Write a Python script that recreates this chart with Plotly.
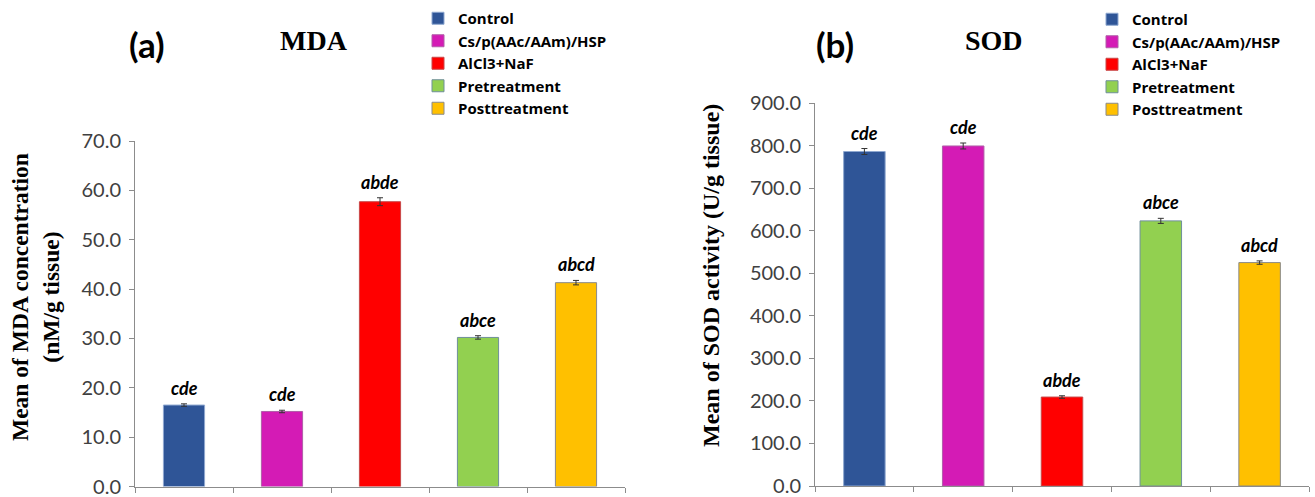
import plotly.graph_objects as go

# Treatment groups and their bar colours
groups = ["Control", "Cs/p(AAc/AAm)/HSP", "AlCl3+NaF", "Pretreatment", "Posttreatment"]
colors = ["#2F5597", "#D41BB5", "#FF0000", "#92D050", "#FFC000"]
edge_colors = ["#8FA8D0", "#B05FA8", "#C84848", "#6F8F9A", "#8A8A8A"]

# (a) MDA concentration (nM/g tissue)
mda_mean = [16.5, 15.2, 57.7, 30.2, 41.3]
mda_err = [0.25, 0.25, 0.8, 0.35, 0.45]
mda_letters = ["cde", "cde", "abde", "abce", "abcd"]

# (b) SOD activity (U/g tissue)
sod_mean = [786, 799, 209, 623, 525]
sod_err = [7, 7, 3, 6, 4]
sod_letters = ["cde", "cde", "abde", "abce", "abcd"]

mda_ticks = [0, 10, 20, 30, 40, 50, 60, 70]
sod_ticks = [0, 100, 200, 300, 400, 500, 600, 700, 800, 900]

W, H = 1315, 497
SANS = "Lato, 'Open Sans', sans-serif"
LEGEND_SANS = "'Open Sans', Lato, sans-serif"
SERIF = "'Liberation Serif', 'DejaVu Serif', serif"


def px_x(p):
    return p / W


def px_y(p):
    return 1 - p / H


fig = go.Figure()

panels = [
    ("x", "y", "legend", mda_mean, mda_err, mda_letters),
    ("x2", "y2", "legend2", sod_mean, sod_err, sod_letters),
]
for xa, ya, lg, means, errs, letters in panels:
    for i, g in enumerate(groups):
        fig.add_trace(go.Bar(
            x=[i + 1], y=[means[i]], name=g, width=0.42,
            xaxis=xa, yaxis=ya, legend=lg,
            marker=dict(color=colors[i], line=dict(color=edge_colors[i], width=1)),
            error_y=dict(type="data", array=[errs[i]], visible=True,
                         color="#333333", thickness=1, width=3),
        ))
        fig.add_annotation(
            x=i + 1, y=means[i] + errs[i], xref=xa, yref=ya,
            text=letters[i], showarrow=False, xanchor="center", yanchor="bottom", yshift=3,
            font=dict(family=SANS, size=18, color="#000000", weight="bold", style="italic"),
        )

axis_line = "#8C8C8C"
xcommon = dict(range=[0.5, 5.5], tickvals=[0.5, 1.5, 2.5, 3.5, 4.5, 5.5],
               showticklabels=False, ticks="outside", ticklen=5, tickcolor=axis_line,
               showline=True, linecolor=axis_line, linewidth=1, showgrid=False,
               zeroline=False, fixedrange=True)
ycommon = dict(ticks="outside", ticklen=5, tickcolor=axis_line, showline=True,
               linecolor=axis_line, linewidth=1, showgrid=False, zeroline=False,
               tickformat=".1f", tickfont=dict(family=SANS, size=20, color="#404040"),
               ticklabelstandoff=4, ticklabeloverflow="allow")

legend_common = dict(font=dict(family=LEGEND_SANS, size=15, color="#000000", weight="bold"),
                     bgcolor="rgba(0,0,0,0)", itemwidth=30, tracegroupgap=0,
                     xanchor="left", yanchor="top", itemclick=False)

fig.update_layout(
    width=W, height=H,
    margin=dict(l=0, r=0, t=0, b=0, autoexpand=False),
    paper_bgcolor="white", plot_bgcolor="white",
    barmode="overlay",
    showlegend=True,
    xaxis=dict(domain=[px_x(135), px_x(625)], anchor="y", **xcommon),
    yaxis=dict(domain=[px_y(486.5), px_y(141)], range=[0, 70], tickvals=mda_ticks,
               anchor="x", **ycommon),
    xaxis2=dict(domain=[px_x(815), px_x(1309)], anchor="y2", **xcommon),
    yaxis2=dict(domain=[px_y(486), px_y(103)], range=[0, 900], tickvals=sod_ticks,
                anchor="x2", **ycommon),
    legend=dict(x=px_x(418), y=px_y(2), **legend_common),
    legend2=dict(x=px_x(1092), y=px_y(3), **legend_common),
)


def paper_text(x, y, text, font, angle=0):
    fig.add_annotation(x=px_x(x), y=px_y(y), xref="paper", yref="paper", text=text,
                       showarrow=False, xanchor="center", yanchor="middle",
                       textangle=angle, font=font)


# Panel labels, titles and axis titles
label_font = dict(family=SANS, size=35, color="#000", weight="bold")
title_font = dict(family=SERIF, size=28, color="#000", weight="bold")
paper_text(147, 44, "(a)", label_font)
paper_text(314, 41, "MDA", title_font)
paper_text(835, 44, "(b)", label_font)
paper_text(994, 41, "SOD", title_font)

paper_text(35, 297, "Mean of MDA concentration<br>(nM/g tissue)",
           dict(family=SERIF, size=23.5, color="#000", weight="bold"), angle=-90)
paper_text(711, 276, "Mean of SOD activity (U/g tissue)",
           dict(family=SERIF, size=24, color="#000", weight="bold"), angle=-90)

fig.write_html("out.html")
